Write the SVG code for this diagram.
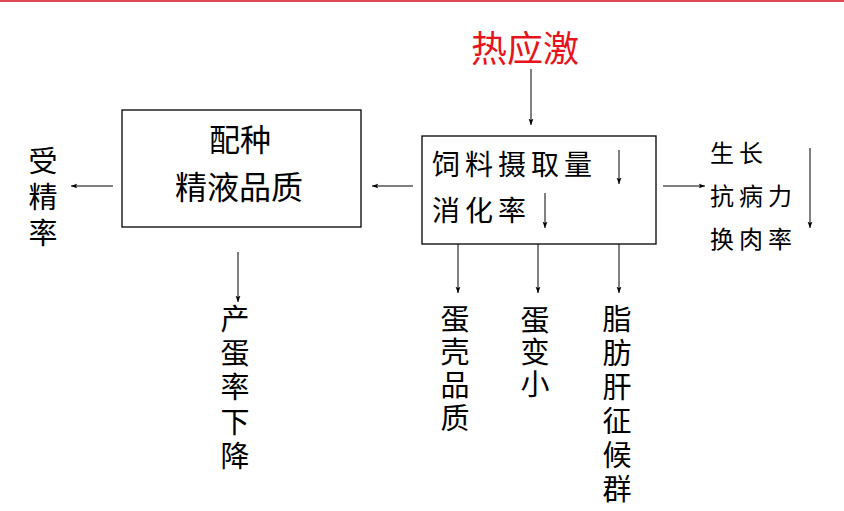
<svg xmlns="http://www.w3.org/2000/svg" width="844" height="511" viewBox="0 0 844 511">
<style>
text{font-family:"Noto Sans CJK SC","Noto Sans",sans-serif;fill:#000}
.box{fill:#fff;stroke:#000;stroke-width:1.3}
.ln{stroke:#000;stroke-width:1;fill:none;marker-end:url(#ah)}
.v{font-size:29px;text-anchor:middle}
</style>
<defs>
<marker id="ah" viewBox="0 0 10 10" refX="9" refY="5" markerWidth="7" markerHeight="7" markerUnits="userSpaceOnUse" orient="auto">
<path d="M0,1.5 L9,5 L0,8.5 L2,5 Z" fill="#000"/>
</marker>
</defs>
<rect x="0" y="0" width="844" height="2" fill="#e04858"/>
<g id="heat"><text x="525" y="62" font-size="36" text-anchor="middle" style="fill:#e8141c">热应激</text></g>
<g id="feed">
<rect class="box" x="422" y="136" width="234" height="108"/>
<text x="432" y="175" font-size="28" letter-spacing="5">饲料摄取量</text>
<text x="432" y="221" font-size="28" letter-spacing="5">消化率</text>
</g>
<g id="semen">
<rect class="box" x="122" y="110" width="239" height="117"/>
<text x="240" y="151" font-size="31" text-anchor="middle">配种</text>
<text x="239" y="199" font-size="32" text-anchor="middle">精液品质</text>
</g>
<g id="fert"><text class="v" x="43"><tspan x="43" y="172">受</tspan><tspan x="43" y="208">精</tspan><tspan x="43" y="244">率</tspan></text></g>
<g id="growth">
<text x="710" y="162" font-size="24" letter-spacing="5">生长</text>
<text x="710" y="205" font-size="24" letter-spacing="5">抗病力</text>
<text x="710" y="248" font-size="24" letter-spacing="5">换肉率</text>
</g>
<g id="egg"><text class="v"><tspan x="235" y="330">产</tspan><tspan x="235" y="364">蛋</tspan><tspan x="235" y="398">率</tspan><tspan x="235" y="433">下</tspan><tspan x="235" y="467">降</tspan></text></g>
<g id="shell"><text class="v"><tspan x="455" y="330">蛋</tspan><tspan x="455" y="363">壳</tspan><tspan x="455" y="396">品</tspan><tspan x="455" y="429">质</tspan></text></g>
<g id="small"><text class="v"><tspan x="535" y="331">蛋</tspan><tspan x="535" y="363">变</tspan><tspan x="535" y="395">小</tspan></text></g>
<g id="fatty"><text class="v"><tspan x="617" y="330">脂</tspan><tspan x="617" y="364">肪</tspan><tspan x="617" y="398">肝</tspan><tspan x="617" y="432">征</tspan><tspan x="617" y="466">候</tspan><tspan x="617" y="500">群</tspan></text></g>
<g id="connectors">
<line class="ln" x1="531" y1="69" x2="531" y2="125"/>
<line class="ln" x1="619" y1="150" x2="619" y2="184"/>
<line class="ln" x1="545" y1="193" x2="545" y2="228"/>
<line class="ln" x1="413" y1="186" x2="372" y2="186"/>
<line class="ln" x1="113" y1="186" x2="71" y2="186"/>
<line class="ln" x1="663" y1="186" x2="705" y2="186"/>
<line class="ln" x1="810" y1="148" x2="810" y2="228"/>
<line class="ln" x1="238" y1="252" x2="238" y2="302"/>
<line class="ln" x1="458" y1="244" x2="458" y2="293"/>
<line class="ln" x1="538" y1="244" x2="538" y2="293"/>
<line class="ln" x1="619" y1="244" x2="619" y2="293"/>
</g>
</svg>
